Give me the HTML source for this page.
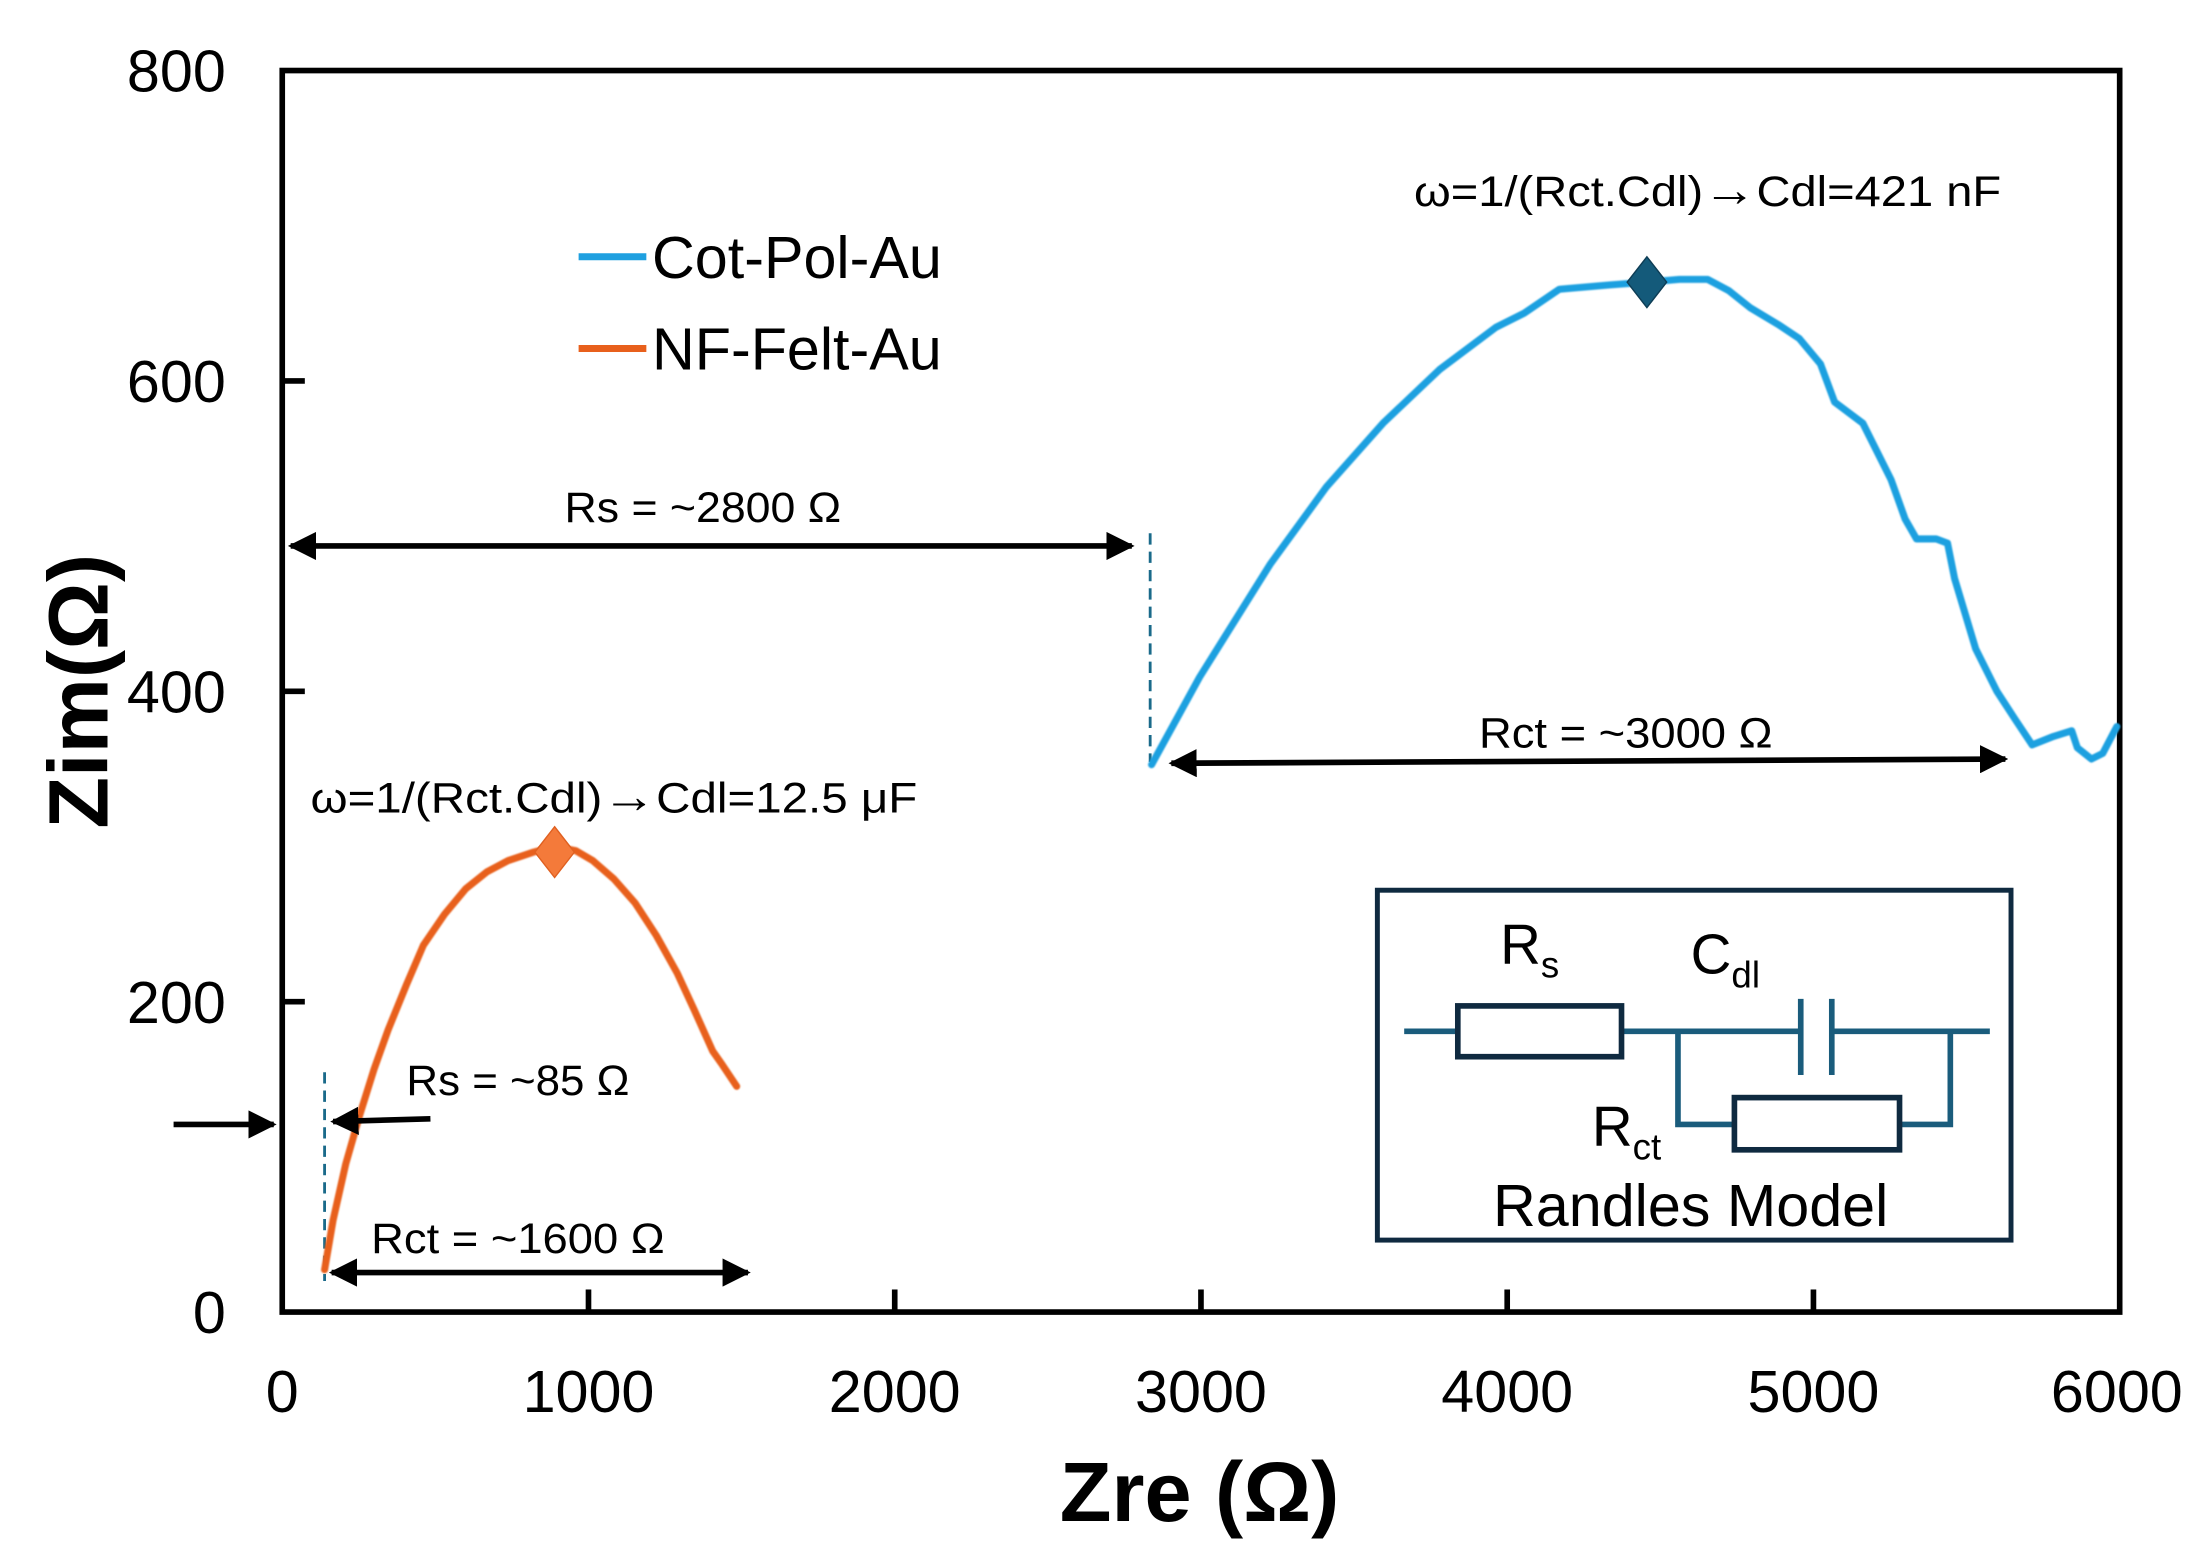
<!DOCTYPE html>
<html><head><meta charset="utf-8"><style>
html,body{margin:0;padding:0;background:#fff;}
svg{display:block;}
text{font-family:"Liberation Sans",sans-serif;}
</style></head><body>
<svg width="2210" height="1566" viewBox="0 0 1566 1110" preserveAspectRatio="none" xmlns="http://www.w3.org/2000/svg">
<defs>
<marker id="ah" viewBox="0 0 10 10" refX="9" refY="5" markerWidth="5" markerHeight="5" orient="auto-start-reverse"><path d="M0,0 L10,5 L0,10 z" fill="#000"/></marker>
<filter id="sm"><feGaussianBlur stdDeviation="0.6"/></filter>
</defs>
<rect x="200" y="50" width="1302" height="880" fill="none" stroke="#000" stroke-width="4"/>
<g stroke="#000" stroke-width="4">
<line x1="417" y1="930" x2="417" y2="914"/><line x1="634" y1="930" x2="634" y2="914"/><line x1="851" y1="930" x2="851" y2="914"/><line x1="1068" y1="930" x2="1068" y2="914"/><line x1="1285" y1="930" x2="1285" y2="914"/>
<line x1="200" y1="710" x2="216" y2="710"/><line x1="200" y1="490" x2="216" y2="490"/><line x1="200" y1="270" x2="216" y2="270"/>
</g>
<g font-size="42" text-anchor="end" fill="#000">
<text x="160" y="65">800</text><text x="160" y="285">600</text><text x="160" y="505">400</text><text x="160" y="725">200</text><text x="160" y="945">0</text>
</g>
<g font-size="42" text-anchor="middle" fill="#000">
<text x="200" y="1001">0</text><text x="417" y="1001">1000</text><text x="634" y="1001">2000</text><text x="851" y="1001">3000</text><text x="1068" y="1001">4000</text><text x="1285" y="1001">5000</text><text x="1500" y="1001">6000</text>
</g>
<text x="850" y="1078" font-size="60" font-weight="bold" text-anchor="middle">Zre (Ω)</text>
<text transform="translate(76,490) rotate(-90)" font-size="60" font-weight="bold" text-anchor="middle">Zim(Ω)</text>
<line x1="410" y1="182" x2="458" y2="182" stroke="#1fa0e0" stroke-width="5"/>
<line x1="410" y1="247" x2="458" y2="247" stroke="#e8601c" stroke-width="5"/>
<text x="462" y="197" font-size="42">Cot-Pol-Au</text>
<text x="462" y="262" font-size="42">NF-Felt-Au</text>
<line x1="815" y1="378" x2="815" y2="540" stroke="#1a6a8a" stroke-width="2" stroke-dasharray="8,5"/>
<line x1="230" y1="760" x2="230" y2="908" stroke="#1a6a8a" stroke-width="2" stroke-dasharray="8,5"/>
<path filter="url(#sm)" d="M816,542 L850,480 L900,400 L940,345 L980,300 L1020,262 L1060,232 L1080,222 L1105,205 L1140,202 L1167,200 L1190,198 L1210,198 L1225,206 L1240,218 L1260,230 L1275,240 L1290,258 L1300,285 L1320,300 L1340,340 L1350,368 L1358,382 L1372,382 L1380,385 L1385,410 L1400,460 L1415,490 L1428,510 L1440,528 L1455,522 L1468,518 L1472,530 L1482,538 L1490,534 L1500,515" fill="none" stroke="#1fa0e0" stroke-width="5" stroke-linejoin="round" stroke-linecap="round"/>
<path d="M1167,182 L1181,200 L1167,218 L1153,200 z" fill="#145a7a" stroke="#0e3d55" stroke-width="1"/>
<path filter="url(#sm)" d="M230,900 L236,865 L245,825 L255,790 L265,758 L275,730 L288,698 L300,670 L315,648 L330,630 L345,618 L360,610 L378,604 L393,600 L408,603 L420,610 L435,623 L450,640 L465,663 L480,690 L492,716 L505,745 L512,755 L522,770" fill="none" stroke="#e8601c" stroke-width="5" stroke-linejoin="round" stroke-linecap="round"/>
<path d="M393,586 L407,604 L393,622 L379,604 z" fill="#f47a3a" stroke="#e06020" stroke-width="1"/>
<g stroke="#000" stroke-width="4" fill="none">
<line x1="206" y1="387" x2="802" y2="387" marker-start="url(#ah)" marker-end="url(#ah)"/>
<line x1="830" y1="541" x2="1421" y2="538" marker-start="url(#ah)" marker-end="url(#ah)"/>
<line x1="235" y1="902" x2="530" y2="902" marker-start="url(#ah)" marker-end="url(#ah)"/>
<line x1="305" y1="793" x2="236" y2="795" marker-end="url(#ah)"/>
<line x1="123" y1="797" x2="194" y2="797" marker-end="url(#ah)"/>
</g>
<g font-size="30" fill="#000">
<text x="498" y="370" text-anchor="middle" textLength="196" lengthAdjust="spacingAndGlyphs">Rs = ~2800 Ω</text>
<text x="1152" y="530" text-anchor="middle" textLength="208" lengthAdjust="spacingAndGlyphs">Rct = ~3000 Ω</text>
<text x="367" y="888" text-anchor="middle" textLength="208" lengthAdjust="spacingAndGlyphs">Rct = ~1600 Ω</text>
<text x="288" y="776" textLength="158" lengthAdjust="spacingAndGlyphs">Rs = ~85 Ω</text>
<text x="1002" y="146" textLength="416" lengthAdjust="spacingAndGlyphs">ω=1/(Rct.Cdl)<tspan font-size="34">→</tspan>Cdl=421 nF</text>
<text x="220" y="576" textLength="430" lengthAdjust="spacingAndGlyphs">ω=1/(Rct.Cdl)<tspan font-size="34">→</tspan>Cdl=12.5 μF</text>
</g>
<rect x="976" y="631" width="449" height="248" fill="#fff" stroke="#0f2a40" stroke-width="3.5"/>
<g stroke="#1a5c7c" stroke-width="4" fill="none">
<line x1="995" y1="731" x2="1032" y2="731"/>
<line x1="1150" y1="731" x2="1276" y2="731"/>
<line x1="1298" y1="731" x2="1410" y2="731"/>
<line x1="1276" y1="708" x2="1276" y2="762"/>
<line x1="1298" y1="708" x2="1298" y2="762"/>
<path d="M1189,731 L1189,797 L1228,797"/>
<path d="M1346,797 L1382,797 L1382,731"/>
</g>
<rect x="1033" y="713" width="116" height="36" fill="#fff" stroke="#0f2a40" stroke-width="4"/>
<rect x="1229" y="778" width="117" height="37" fill="#fff" stroke="#0f2a40" stroke-width="4"/>
<g font-size="40" fill="#000">
<text x="1063" y="683">R<tspan font-size="26" dy="10">s</tspan></text>
<text x="1198" y="690">C<tspan font-size="26" dy="10">dl</tspan></text>
<text x="1128" y="812">R<tspan font-size="26" dy="10">ct</tspan></text>
<text x="1198" y="869" text-anchor="middle" font-size="42">Randles Model</text>
</g>
</svg>
</body></html>
